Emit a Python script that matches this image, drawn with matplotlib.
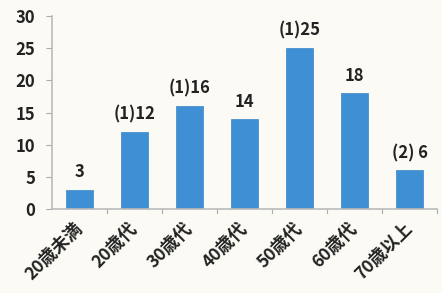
import matplotlib
matplotlib.use("Agg")
import matplotlib.pyplot as plt

plt.rcParams['font.family'] = ['Noto Sans CJK JP', 'DejaVu Sans']

categories = ["20歳未満", "20歳代", "30歳代", "40歳代", "50歳代", "60歳代", "70歳以上"]
values = [3, 12, 16, 14, 25, 18, 6]
value_labels = ["3", "(1)12", "(1)16", "14", "(1)25", "18", "(2) 6"]
yticks = [0, 5, 10, 15, 20, 25, 30]

bg = '#fbfaf4'
fig = plt.figure(figsize=(4.42, 2.93), dpi=100, facecolor=bg)
ax = fig.add_axes([0.118, 0.287, 0.871, 0.658], facecolor=bg)

x = list(range(len(categories)))
ax.bar(x, values, width=0.5, color='#3f8fd4', edgecolor='#3a86c8', linewidth=0.5, zorder=2)

for xi, v, lab in zip(x, values, value_labels):
    ax.annotate(lab, (xi, v), xytext=(0, 6), textcoords='offset points',
                ha='center', va='bottom', fontsize=12, fontweight='bold', color='#222222')

ax.set_xlim(-0.5, len(categories) - 0.5)
ax.set_ylim(0, 30)
ax.set_yticks(yticks)
ax.set_yticklabels([str(t) for t in yticks], fontsize=12, fontweight='bold', color='#222222')
ax.set_xticks(x)
ax.set_xticklabels(categories, rotation=45, ha='right', va='center', rotation_mode='anchor',
                   fontsize=12.5, fontweight='bold', color='#222222')
ax.tick_params(axis='x', length=0, pad=12)
ax.tick_params(axis='y', length=4, color='#aaaaaa', pad=8)

# small category boundary ticks on x axis
for b in [i + 0.5 for i in range(len(categories))]:
    ax.plot([b, b], [0, -0.6], color='#aaaaaa', lw=0.8, clip_on=False)

for s in ['top', 'right']:
    ax.spines[s].set_visible(False)
ax.spines['left'].set_color('#bbbbbb')
ax.spines['bottom'].set_color('#bbbbbb')
ax.spines['left'].set_linewidth(1.2)
ax.spines['bottom'].set_linewidth(1.2)

fig.savefig('out.png', dpi=100, facecolor=bg)
